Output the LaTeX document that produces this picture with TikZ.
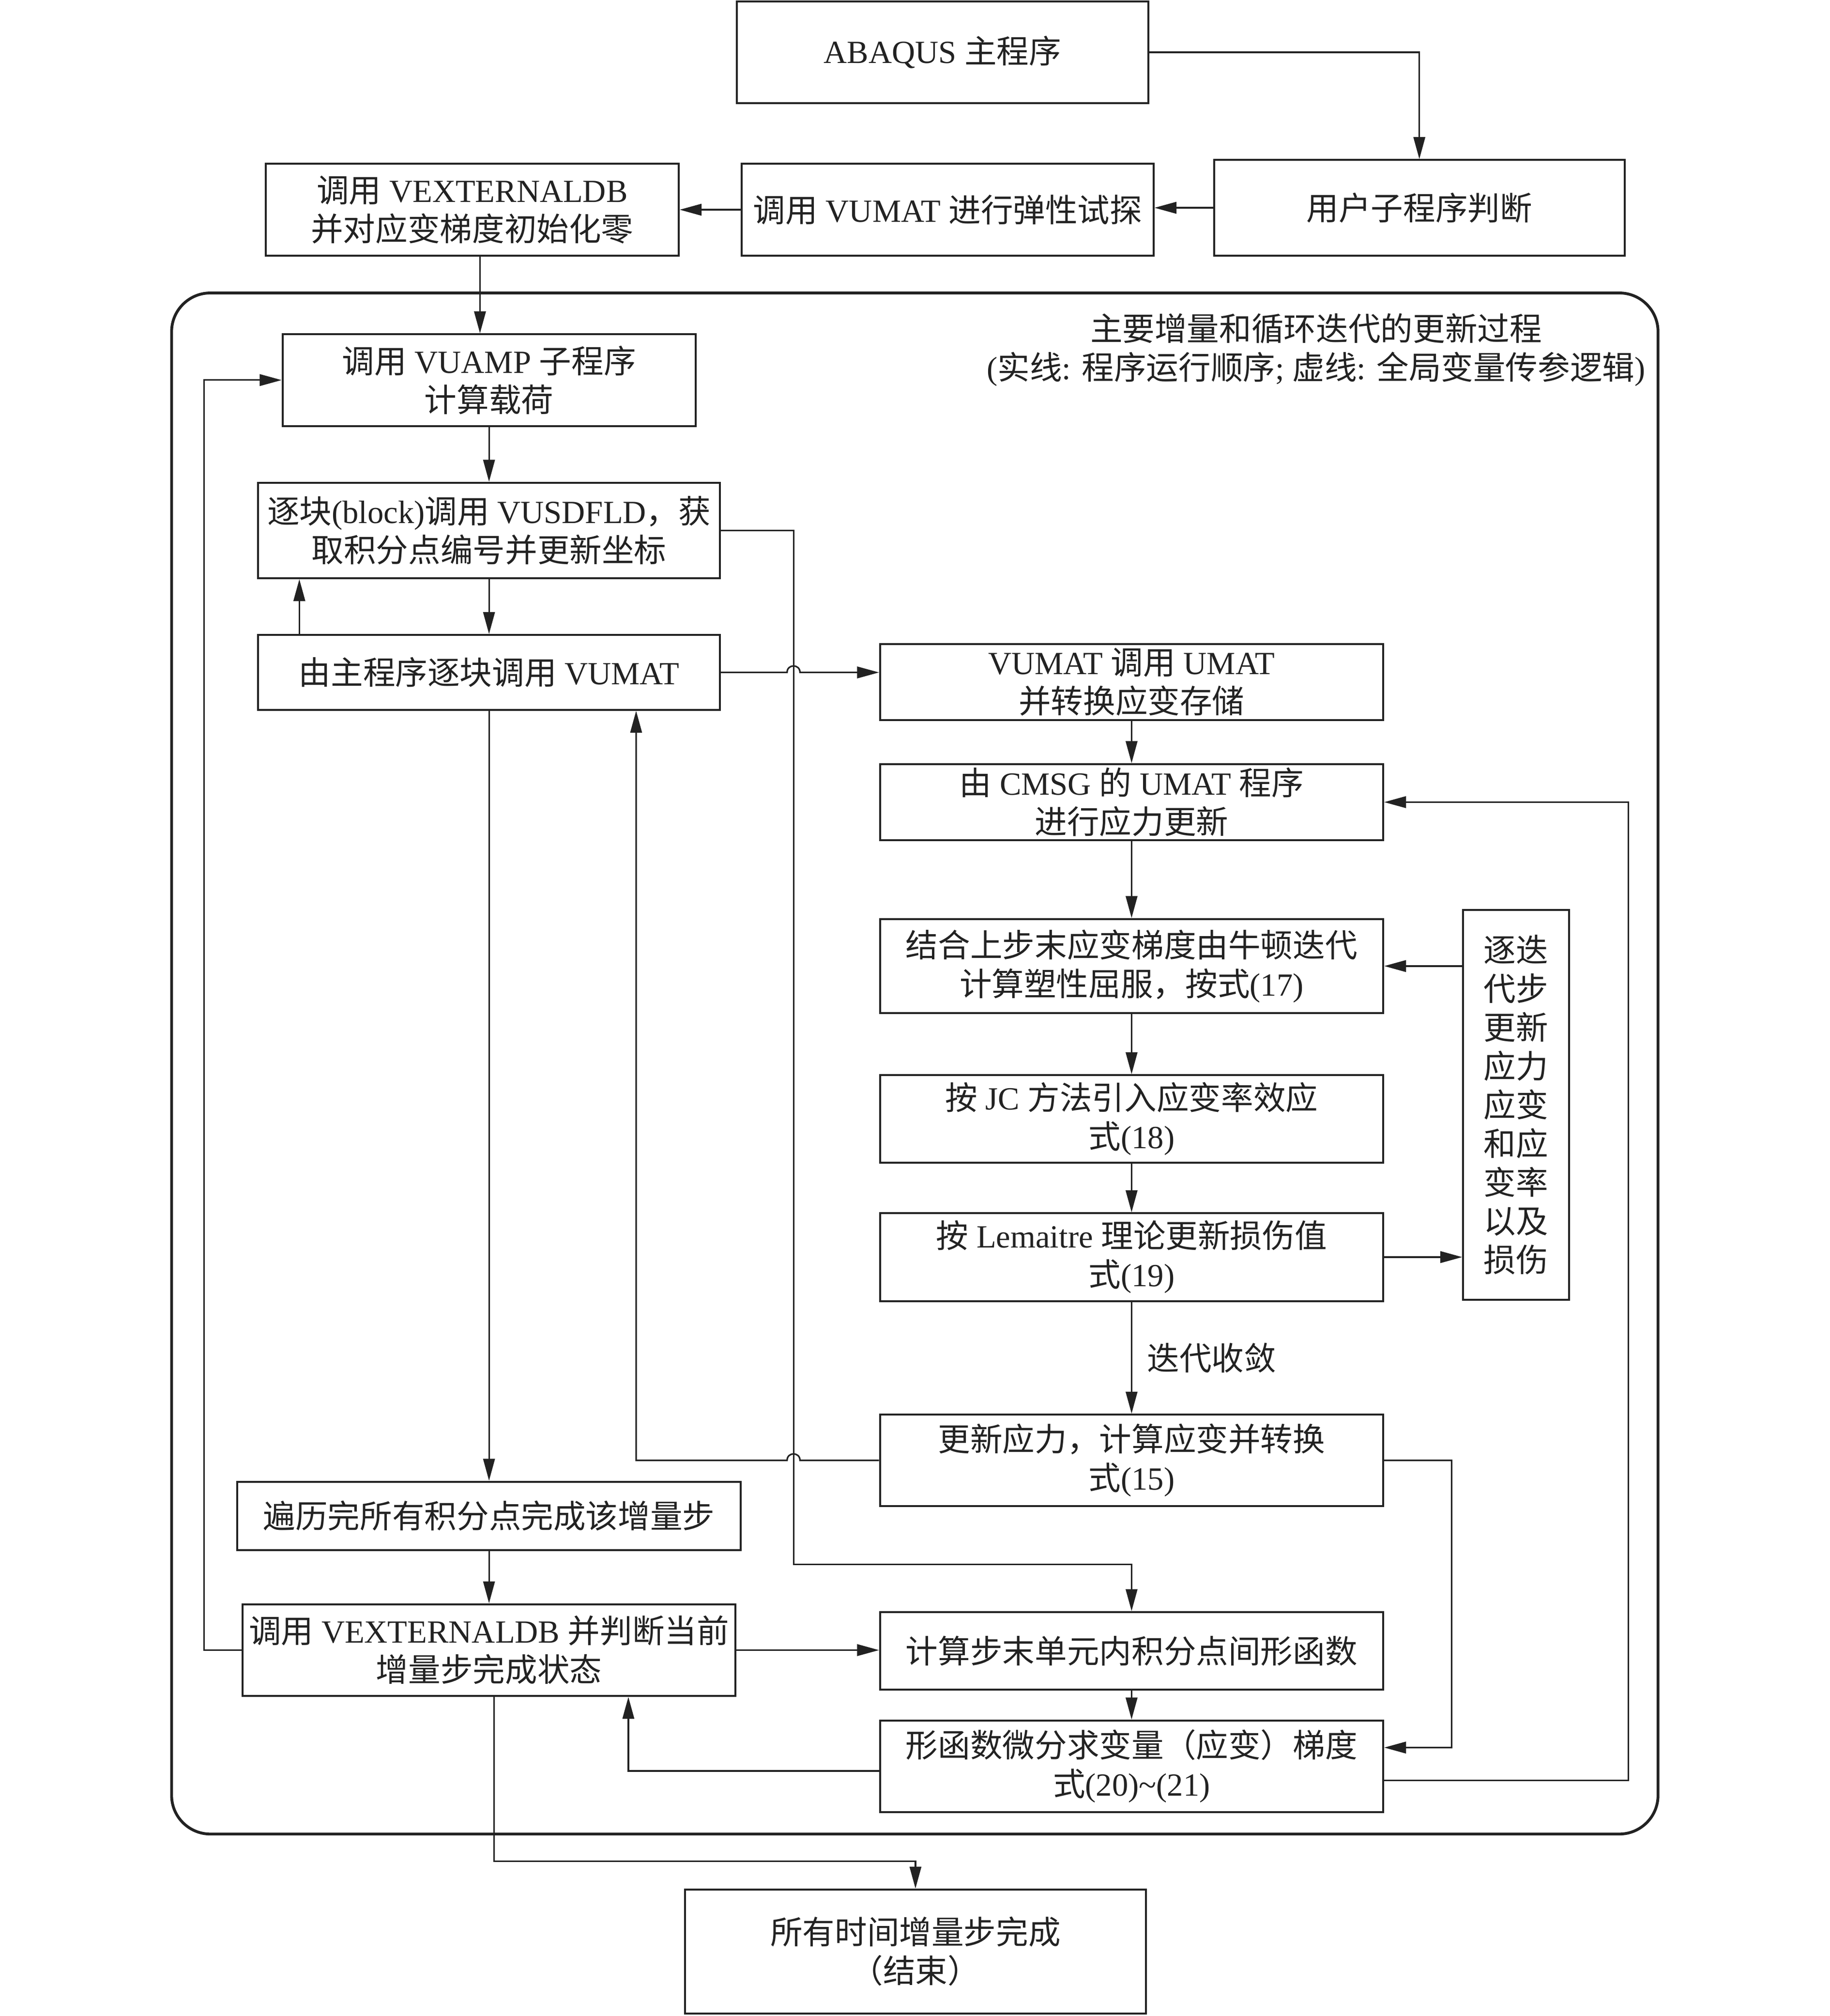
\documentclass[tikz,border=0pt]{standalone}
\usepackage{fontspec}
\setmainfont{Liberation Serif}
\newfontfamily\zhfont{Noto Sans CJK SC}
\usetikzlibrary{arrows.meta,calc}
% automatic switch to the CJK font for CJK characters
\XeTeXinterchartokenstate=1
\chardef\zhcls=7
\newcount\zhc
\zhc="4E00
\loop\XeTeXcharclass\zhc=\zhcls\ifnum\zhc<"9FFF\advance\zhc by 1\repeat
\XeTeXcharclass"FF0C=\zhcls
\XeTeXcharclass"FF08=\zhcls
\XeTeXcharclass"FF09=\zhcls
\XeTeXcharclass"3001=\zhcls
\XeTeXcharclass"3002=\zhcls
\XeTeXinterchartoks 0 \zhcls={\begingroup\zhfont}
\XeTeXinterchartoks 4095 \zhcls={\begingroup\zhfont}
\XeTeXinterchartoks \zhcls 0={\endgroup}
\XeTeXinterchartoks \zhcls 4095={\endgroup}
\definecolor{ink}{HTML}{222222}
\tikzset{
  box/.style={draw=ink, line width=0.75pt, align=center, inner sep=0pt, text=ink,
    font=\fontsize{12.5}{15}\selectfont},
  lbl/.style={align=center, inner sep=0pt, text=ink, font=\fontsize{12.5}{15}\selectfont},
  conn/.style={draw=ink, line width=0.6pt, -{Triangle[length=8.5pt,width=4.5pt]}},
}
\newcommand\bx[6]{\node[box, minimum width={(#4-#2)*0.5pt}, minimum height={(#5-#3)*0.5pt}]
  (#1) at ({(#2+#4)/2},{(#3+#5)/2}) {#6};}
\begin{document}
\begin{tikzpicture}[x=0.5pt,y=-0.5pt]
\useasboundingbox (0,0) rectangle (1418,1562);
% outer frame
\node[draw=ink, line width=1.1pt, rounded corners=15pt, inner sep=0pt,
  minimum width={(1285-133)*0.5pt}, minimum height={(1421-227)*0.5pt}]
  (frame) at ({(133+1285)/2},{(227+1421)/2}) {};
\node[lbl] (title) at (1020,271) {主要增量和循环迭代的更新过程\\(实线: 程序运行顺序; 虚线: 全局变量传参逻辑)};
% boxes
\bx{abq}{571}{1}{890}{80}{ABAQUS 主程序}
\bx{usr}{941}{124}{1259}{198}{用户子程序判断}
\bx{trial}{575}{127}{894}{198}{调用 VUMAT 进行弹性试探}
\bx{vext}{206}{127}{526}{198}{调用 VEXTERNALDB\\并对应变梯度初始化零}
\bx{vuamp}{219}{259}{539}{330}{调用 VUAMP 子程序\\计算载荷}
\bx{blk}{200}{374}{558}{448}{逐块(block)调用 VUSDFLD，获\\取积分点编号并更新坐标}
\bx{main}{200}{492}{558}{550}{由主程序逐块调用 VUMAT}
\bx{b8}{682}{499}{1072}{558}{VUMAT 调用 UMAT\\并转换应变存储}
\bx{b9}{682}{592}{1072}{651}{由 CMSG 的 UMAT 程序\\进行应力更新}
\bx{b10}{682}{712}{1072}{785}{结合上步末应变梯度由牛顿迭代\\计算塑性屈服，按式(17)}
\bx{b11}{1134}{705}{1216}{1007}{逐迭\\代步\\更新\\应力\\应变\\和应\\变率\\以及\\损伤}
\bx{b12}{682}{833}{1072}{901}{按 JC 方法引入应变率效应\\式(18)}
\bx{b13}{682}{940}{1072}{1008}{按 Lemaitre 理论更新损伤值\\式(19)}
\bx{b14}{682}{1096}{1072}{1167}{更新应力，计算应变并转换\\式(15)}
\bx{b15}{184}{1148}{574}{1201}{遍历完所有积分点完成该增量步}
\bx{b16}{188}{1243}{570}{1314}{调用 VEXTERNALDB 并判断当前\\增量步完成状态}
\bx{b17}{682}{1249}{1072}{1309}{计算步末单元内积分点间形函数}
\bx{b18}{682}{1333}{1072}{1404}{形函数微分求变量（应变）梯度\\式(20)\textasciitilde(21)}
\bx{b19}{531}{1464}{888}{1560}{所有时间增量步完成\\（结束）}
\node[lbl] (conv) at (939,1052) {迭代收敛};
% helper coordinates
\coordinate (xa) at (372,0);
\coordinate (xb) at (232,0);
\coordinate (xc) at (493,0);
\coordinate (xd) at (487,0);
\coordinate (xe) at (383,0);
\coordinate (xl) at (158,0);
\coordinate (xr) at (1262,0);
\coordinate (p18a) at ($(b18.north east)!0.3!(b18.south east)$);
\coordinate (p18b) at ($(b18.north west)!0.55!(b18.south west)$);
\coordinate (p18c) at ($(b18.north east)!0.65!(b18.south east)$);
% connectors
\draw[conn] (abq.east) -| (usr.north);
\draw[conn] (usr.west) -- (usr.west -| trial.east);
\draw[conn] (trial.west) -- (trial.west -| vext.east);
\draw[conn] (vext.south -| xa) -- (vuamp.north -| xa);
\draw[conn] (vuamp.south) -- (blk.north);
\draw[conn] (blk.south) -- (main.north);
\draw[conn] (main.north -| xb) -- (blk.south -| xb);
\draw[conn] (blk.east) -| (615,1212) -| (b17.north);
\draw[conn] (main.east) -- (610,521) .. controls (610,514.3) and (620,514.3) .. (620,521) -- (main.east -| b8.west);
\draw[conn] (b8.south) -- (b9.north);
\draw[conn] (b9.south) -- (b10.north);
\draw[conn] (b11.west |- b10.east) -- (b10.east);
\draw[conn] (b10.south) -- (b12.north);
\draw[conn] (b12.south) -- (b13.north);
\draw[conn] (b13.east) -- (b13.east -| b11.west);
\draw[conn] (b13.south) -- (b14.north);
\draw[conn] (b14.west) -- (620,1131.5) .. controls (620,1124.8) and (610,1124.8) .. (610,1131.5) -- (493,1131.5) -- (main.south -| xc);
\draw[conn] (b14.east) -| (1125,1354) -- (p18a);
\draw[conn] (main.south) -- (b15.north);
\draw[conn] (b15.south) -- (b16.north);
\draw[conn] (b16.west) -- (b16.west -| xl) |- (vuamp.west);
\draw[conn] (b16.east) -- (b16.east -| b17.west);
\draw[conn] (b17.south) -- (b18.north);
\draw[conn] (p18b) -- (p18b -| xd) -- (b16.south -| xd);
\draw[conn] (p18c) -- (p18c -| xr) |- (b9.east);
\draw[conn] (b16.south -| xe) -- (383,1442) -| (b19.north);
\end{tikzpicture}
\end{document}
